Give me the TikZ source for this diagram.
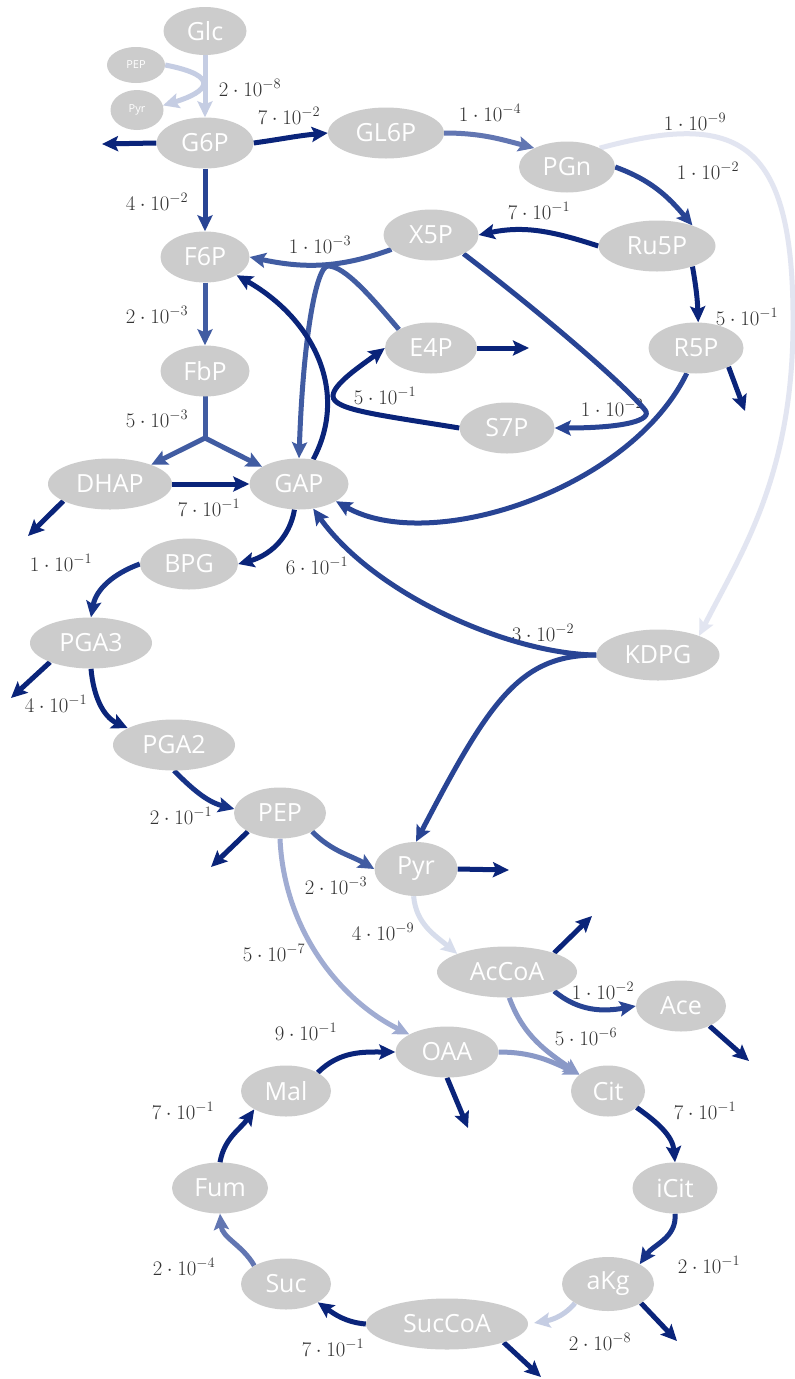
\documentclass[tikz,border=0pt]{standalone}
\usepackage{fontspec}
\setsansfont{Open Sans}
\usetikzlibrary{arrows.meta,shapes.geometric}
\definecolor{cA}{RGB}{10,36,122}
\definecolor{cB}{RGB}{22,50,135}
\definecolor{cC}{RGB}{40,68,148}
\definecolor{cD}{RGB}{65,92,162}
\definecolor{cE}{RGB}{98,118,178}
\definecolor{cF}{RGB}{138,153,199}
\definecolor{cFF}{RGB}{160,172,210}
\definecolor{cG}{RGB}{197,205,227}
\definecolor{cH}{RGB}{215,221,236}
\definecolor{cI}{RGB}{226,229,241}
\definecolor{nodegray}{RGB}{204,204,204}
\definecolor{labgray}{RGB}{51,51,51}
\pgfdeclarelayer{lablayer}
\pgfdeclarelayer{edgelayer}
\pgfsetlayers{lablayer,edgelayer,main}
\begin{document}
\begin{tikzpicture}[x=1pt,y=1pt,
  met/.style={ellipse, fill=nodegray, text=white, inner sep=0pt, minimum height=51pt,
    font=\sffamily\fontsize{25}{29}\selectfont},
  sm/.style={ellipse, fill=nodegray, text=white, inner sep=0pt,
    font=\sffamily\fontsize{11}{13}\selectfont},
  lab/.style={text=labgray, inner sep=0pt, font=\fontsize{20.74}{25}\selectfont},
  e/.style={line width=5pt, -{Stealth[length=16pt,width=15pt,inset=3pt]}},
  ln/.style={line width=5pt, line cap=round},
]
\useasboundingbox (0,0) rectangle (795,-1379);
% nodes
\node[met,minimum width=83pt,minimum height=48pt] (Glc) at (205,-31) {Glc};
\node[sm,minimum width=58pt,minimum height=36pt] (PEPs) at (136,-65) {PEP};
\node[sm,minimum width=53pt,minimum height=40pt] (Pyrs) at (137,-110) {Pyr};
\node[met,minimum width=97pt] (G6P) at (205,-143) {G6P};
\node[met,minimum width=116pt] (GL6P) at (386,-133) {GL6P};
\node[met,minimum width=96pt] (PGn) at (567,-167) {PGn};
\node[met,minimum width=95pt] (X5P) at (431,-235) {X5P};
\node[met,minimum width=117pt] (Ru5P) at (657,-246) {Ru5P};
\node[met,minimum width=89pt] (F6P) at (205,-257) {F6P};
\node[met,minimum width=89pt] (FbP) at (205,-371) {FbP};
\node[met,minimum width=92pt] (E4P) at (431,-348) {E4P};
\node[met,minimum width=95pt] (R5P) at (696,-348) {R5P};
\node[met,minimum width=95pt] (S7P) at (507,-428) {S7P};
\node[met,minimum width=124pt] (DHAP) at (110,-484) {DHAP};
\node[met,minimum width=99pt] (GAP) at (299,-484) {GAP};
\node[met,minimum width=98pt] (BPG) at (189,-564) {BPG};
\node[met,minimum width=122pt] (PGA3) at (91,-643) {PGA3};
\node[met,minimum width=123pt] (KDPG) at (658,-655) {KDPG};
\node[met,minimum width=122pt] (PGA2) at (174,-745) {PGA2};
\node[met,minimum width=92pt] (PEP) at (280,-813) {PEP};
\node[met,minimum width=83pt,minimum height=54pt] (Pyr) at (416,-869) {Pyr};
\node[met,minimum width=140pt] (AcCoA) at (507,-972) {AcCoA};
\node[met,minimum width=90pt] (Ace) at (681,-1006) {Ace};
\node[met,minimum width=103pt] (OAA) at (447,-1052) {OAA};
\node[met,minimum width=74pt] (Cit) at (608,-1091) {Cit};
\node[met,minimum width=90pt] (Mal) at (286,-1091) {Mal};
\node[met,minimum width=96pt] (Fum) at (220,-1188) {Fum};
\node[met,minimum width=85pt] (iCit) at (675,-1188) {iCit};
\node[met,minimum width=90pt] (Suc) at (286,-1284) {Suc};
\node[met,minimum width=92pt,minimum height=54pt] (aKg) at (608,-1284) {aKg};
\node[met,minimum width=162pt] (SucCoA) at (447,-1324) {SucCoA};
% free ends
\coordinate (oG6P) at (102,-144);
\coordinate (J2) at (205,-438);
\coordinate (oDHAP) at (28,-536);
\coordinate (oE4P) at (529,-348);
\coordinate (oR5P) at (745,-411);
\coordinate (oPGA3) at (11,-698);
\coordinate (oPEP) at (211,-867);
\coordinate (oPyr) at (509,-870);
\coordinate (oAcCoA) at (592,-916);
\coordinate (oAce) at (749,-1061);
\coordinate (oOAA) at (468,-1128);
\coordinate (oaKg) at (677,-1341);
\coordinate (oSucCoA) at (541,-1377);
% labels
\begin{pgfonlayer}{lablayer}
\fill[white] (0,0) rectangle (795,-1379);
\node[lab] (l1) at (250,-88) {$2\cdot10^{-8}$};
\node[lab] (l2) at (289,-116) {$7\cdot10^{-2}$};
\node[lab] (l3) at (490,-113) {$1\cdot10^{-4}$};
\node[lab] (l4) at (695,-122) {$1\cdot10^{-9}$};
\node[lab] (l5) at (708,-171) {$1\cdot10^{-2}$};
\node[lab] (l6) at (539,-211) {$7\cdot10^{-1}$};
\node[lab] (l7) at (320,-245) {$1\cdot10^{-3}$};
\node[lab] (l8) at (747,-317) {$5\cdot10^{-1}$};
\node[lab] (l9) at (157,-202) {$4\cdot10^{-2}$};
\node[lab] (l10) at (157,-315) {$2\cdot10^{-3}$};
\node[lab] (l11) at (157,-419) {$5\cdot10^{-3}$};
\node[lab] (l12) at (209,-508) {$7\cdot10^{-1}$};
\node[lab] (l13) at (385,-396) {$5\cdot10^{-1}$};
\node[lab] (l14) at (612,-408) {$1\cdot10^{-2}$};
\node[lab] (l15) at (61,-563) {$1\cdot10^{-1}$};
\node[lab] (l16) at (317,-566) {$6\cdot10^{-1}$};
\node[lab] (l17) at (56,-704) {$4\cdot10^{-1}$};
\node[lab] (l18) at (181,-816) {$2\cdot10^{-1}$};
\node[lab] (l19) at (543,-633) {$3\cdot10^{-2}$};
\node[lab] (l20) at (336,-886) {$2\cdot10^{-3}$};
\node[lab] (l21) at (274,-953) {$5\cdot10^{-7}$};
\node[lab] (l22) at (383,-932) {$4\cdot10^{-9}$};
\node[lab] (l23) at (603,-991) {$1\cdot10^{-2}$};
\node[lab] (l24) at (586,-1037) {$5\cdot10^{-6}$};
\node[lab] (l25) at (306,-1032) {$9\cdot10^{-1}$};
\node[lab] (l26) at (183,-1111) {$7\cdot10^{-1}$};
\node[lab] (l27) at (705,-1111) {$7\cdot10^{-1}$};
\node[lab] (l28) at (184,-1267) {$2\cdot10^{-4}$};
\node[lab] (l29) at (709,-1265) {$2\cdot10^{-1}$};
\node[lab] (l30) at (333,-1348) {$7\cdot10^{-1}$};
\node[lab] (l31) at (600,-1342) {$2\cdot10^{-8}$};
\end{pgfonlayer}
% edges
\begin{pgfonlayer}{edgelayer}
\draw[e,cG] (Glc) -- (G6P);
\draw[e,cG] (PEPs.east) .. controls (222,-76) and (208,-92) .. (Pyrs.10);
\draw[e,cA] (G6P.west) -- (oG6P);
\draw[e,cA] (G6P.east) to[out=8,in=185] (GL6P.west);
\draw[e,cC] (G6P) -- (F6P);
\draw[e,cE] (GL6P.east) to[out=0,in=165] (PGn.150);
\draw[e,cC] (PGn.east) to[out=-20,in=130] (Ru5P.30);
\draw[e,cI] (PGn.30) .. controls (740,-110) and (795,-140) .. (793,-330)
   .. controls (791,-480) and (740,-555) .. (KDPG.25);
\draw[e,cA] (Ru5P.west) to[out=162,in=12] (X5P.east);
\draw[e,cA] (Ru5P.-30) to[out=-80,in=92] (R5P.85);
\draw[e,cD] (X5P.200) to[out=200,in=-12] (F6P.east);
\draw[e,cD] (E4P.150) .. controls (372,-298) and (345,-266) .. (328,-266)
   .. controls (316,-266) and (303,-340) .. (GAP.90);
\draw[e,cA] (GAP.60) .. controls (350,-390) and (312,-318) .. (F6P.-30);
\draw[e,cA] (S7P.west) .. controls (380,-415) and (333,-410) .. (333,-396)
   .. controls (333,-384) and (362,-365) .. (E4P.west);
\draw[e,cC] (X5P.-30) .. controls (540,-312) and (625,-385) .. (645,-410)
   .. controls (653,-420) and (625,-428) .. (S7P.east);
\draw[e,cC] (R5P.-110) .. controls (630,-490) and (430,-555) .. (GAP.-25);
\draw[e,cD] (F6P) -- (FbP);
\draw[ln,cD] (FbP) -- (J2);
\draw[e,cD] (J2) -- (DHAP.25);
\draw[e,cD] (J2) -- (GAP.155);
\draw[e,cA] (DHAP.east) -- (GAP.west);
\draw[e,cA] (DHAP.-160) -- (oDHAP);
\draw[e,cA] (E4P.east) -- (oE4P);
\draw[e,cA] (R5P.-30) -- (oR5P);
\draw[e,cA] (GAP.-100) to[out=-100,in=15] (BPG.east);
\draw[e,cB] (BPG.west) to[out=200,in=80] (PGA3.north);
\draw[e,cA] (PGA3.-155) -- (oPGA3);
\draw[e,cA] (PGA3.south) to[out=-85,in=155] (PGA2.160);
\draw[e,cB] (PGA2.south) to[out=-45,in=165] (PEP.175);
\draw[e,cA] (PEP.-150) -- (oPEP);
\draw[e,cD] (PEP.-30) to[out=-45,in=150] (Pyr.west);
\draw[e,cFF] (PEP.south) .. controls (284,-930) and (340,-1000) .. (OAA.155);
\draw[e,cH] (Pyr.-95) to[out=-85,in=140] (AcCoA.160);
\draw[e,cA] (Pyr.east) -- (oPyr);
\draw[e,cC] (KDPG.west) .. controls (510,-654) and (375,-595) .. (GAP.-60);
\draw[e,cC] (KDPG.west) .. controls (520,-655) and (490,-700) .. (Pyr.north);
\draw[e,cA] (AcCoA.22) -- (oAcCoA);
\draw[e,cC] (AcCoA.-22) to[out=-40,in=190] (Ace.west);
\draw[e,cF] (AcCoA.-85) to[out=-70,in=145] (Cit.150);
\draw[e,cF] (OAA.east) to[out=0,in=155] (Cit.150);
\draw[e,cA] (Ace.-35) -- (oAce);
\draw[e,cA] (OAA.south) -- (oOAA);
\draw[e,cA] (Mal.30) to[out=45,in=180] (OAA.west);
\draw[e,cA] (Fum.north) to[out=80,in=235] (Mal.210);
\draw[e,cE] (Suc.150) to[out=120,in=-85] (Fum.south);
\draw[e,cA] (SucCoA.west) to[out=175,in=-35] (Suc.-30);
\draw[e,cG,shorten >=6pt] (aKg.-150) to[out=-130,in=10] (SucCoA.east);
\draw[e,cA] (aKg.-30) -- (oaKg);
\draw[e,cA] (SucCoA.-18) -- (oSucCoA);
\draw[e,cB] (iCit.south) to[out=-85,in=55] (aKg.32);
\draw[e,cA] (Cit.-30) to[out=-35,in=95] (iCit.north);
\end{pgfonlayer}
\end{tikzpicture}
\end{document}
